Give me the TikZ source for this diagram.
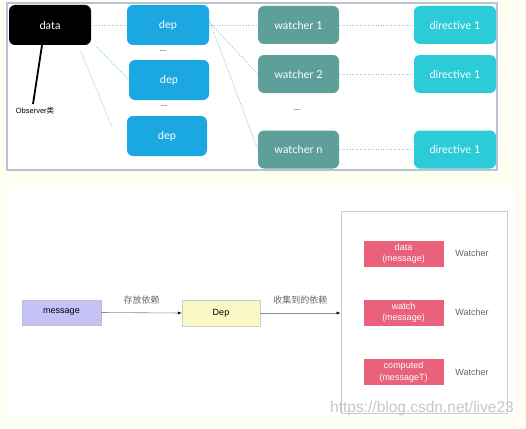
\documentclass[tikz,border=0pt]{standalone}
\usepackage{fontspec}
\setmainfont{Liberation Sans}
\newfontfamily\roundfont{Lato}
\newfontfamily\cjk{Noto Sans CJK SC}
\usetikzlibrary{arrows.meta}

\definecolor{cream}{HTML}{FFFEF2}
\definecolor{frameblue}{HTML}{B9C3D6}
\definecolor{depblue}{HTML}{1BA8E0}
\definecolor{watchteal}{HTML}{5F9F99}
\definecolor{dircyan}{HTML}{2BCBD7}
\definecolor{dotblue}{HTML}{7FC8E2}
\definecolor{msgblue}{HTML}{C4C2F6}
\definecolor{depyellow}{HTML}{FAF8C4}
\definecolor{watchred}{HTML}{E9617B}

\begin{document}
\begin{tikzpicture}[x=1pt,y=-1pt,
  tile/.style={rounded corners=6pt,text=white,font=\roundfont\fontsize{11}{13}\selectfont,inner sep=0pt},
  dotline/.style={dotblue,line width=0.9pt,dash pattern=on 1pt off 1.6pt},
  flat/.style={draw,inner sep=0pt,font=\fontsize{9}{11}\selectfont},
  watchbox/.style={flat,fill=watchred,draw=watchred,text=white,align=center,minimum width=79pt,minimum height=25pt,font=\fontsize{9}{11.5}\selectfont},
  grey text/.style={text=black!60,font=\fontsize{9}{11}\selectfont},
  flow/.style={black!45,line width=0.6pt,-{Latex[length=4pt,width=3pt,black]}}]

\useasboundingbox (0,0) rectangle (526,428);
\fill[cream] (0,0) rectangle (526,428);

%top panel
\filldraw[draw=frameblue,fill=white,line width=1.5pt] (7,3) rectangle (497,170);

\node[tile,fill=black,minimum width=82pt,minimum height=40pt] (data) at (50,25) {data};

\node[tile,fill=depblue,minimum width=82pt,minimum height=40pt] (dep1) at (168,25) {dep};
\node[tile,fill=depblue,minimum width=80pt,minimum height=40pt] (dep2) at (169,80) {dep};
\node[tile,fill=depblue,minimum width=80pt,minimum height=40pt] (dep3) at (167,136) {dep};
\node[font=\roundfont\fontsize{9}{9}\selectfont,text=black!70] (dots1) at (163,51) {...};
\node[font=\roundfont\fontsize{9}{9}\selectfont,text=black!70] (dots2) at (164,106) {...};

\node[tile,fill=watchteal,minimum width=81pt,minimum height=38pt] (w1) at (298.5,25) {watcher 1};
\node[tile,fill=watchteal,minimum width=81pt,minimum height=38pt] (w2) at (298.5,74) {watcher 2};
\node[tile,fill=watchteal,minimum width=81pt,minimum height=38pt] (wn) at (298.5,149.5) {watcher n};
\node[font=\roundfont\fontsize{9}{9}\selectfont,text=black!70] (dots3) at (297,110) {...};

\node[tile,fill=dircyan,minimum width=82pt,minimum height=38pt] (d1) at (455,25) {directive 1};
\node[tile,fill=dircyan,minimum width=82pt,minimum height=38pt] (d2) at (455,74) {directive 1};
\node[tile,fill=dircyan,minimum width=82pt,minimum height=38pt] (dn) at (455,149.5) {directive 1};

\node[font=\fontsize{7.5}{8}\selectfont] (obs) at (35,111) {Observer\cjk{类}};
\coordinate (obstop) at (33,104);
\coordinate (from2) at (97,47);
\coordinate (from3) at (81,52);
\coordinate (to3) at (112,127);

\draw[line width=1.8pt] ([xshift=-8pt]data.south) -- (obstop);

\draw[dotline] (data.east) -- (dep1.west);
\draw[dotline] (from2) -- (dep2.west);
\draw[dotline] (from3) -- (to3);
\draw[dotline] (dep1.east) -- (w1.west);
\draw[dotline] ([yshift=3pt]dep1.east) -- (w2.west);
\draw[dotline] ([yshift=5pt]dep1.east) -- (wn.west);
\draw[dotline] (w1.east) -- (d1.west);
\draw[dotline] (w2.east) -- (d2.west);
\draw[dotline] (wn.east) -- (dn.west);

%bottom panel
\fill[white] (6,187) rectangle (516,417);

\node[flat,fill=msgblue,draw=black!25,minimum width=79pt,minimum height=25pt] (message) at (61.5,312.5) {message};
\node[flat,fill=depyellow,draw=black!20,minimum width=78pt,minimum height=26pt] (Dep) at (221,313) {Dep};
\node[flat,draw=black!20,fill=white,line width=0.8pt,minimum width=166pt,minimum height=202pt] (group) at (424,312) {};

\node[watchbox] (wdata) at (403.5,253.5) {data\\(message)};
\node[watchbox] (wwatch) at (403.5,312.5) {watch\\(message)};
\node[watchbox] (wcomp) at (403.5,372) {computed\\(messageT)};

\node[grey text] (lab1) at (472,253.5) {Watcher};
\node[grey text] (lab2) at (472,312.5) {Watcher};
\node[grey text] (lab3) at (472,372) {Watcher};

\draw[flow] (message.east) -- (Dep.west) node[midway,above=5pt,grey text,font=\cjk\fontsize{9}{11}\selectfont] {存放依赖};
\draw[flow] (Dep.east) -- (group.west |- Dep.east) node[midway,above=5pt,grey text,font=\cjk\fontsize{9}{11}\selectfont] {收集到的依赖};

\node[text=black!22,font=\fontsize{15.5}{16}\selectfont] (mark) at (422,408) {https://blog.csdn.net/live23};
\end{tikzpicture}
\end{document}
